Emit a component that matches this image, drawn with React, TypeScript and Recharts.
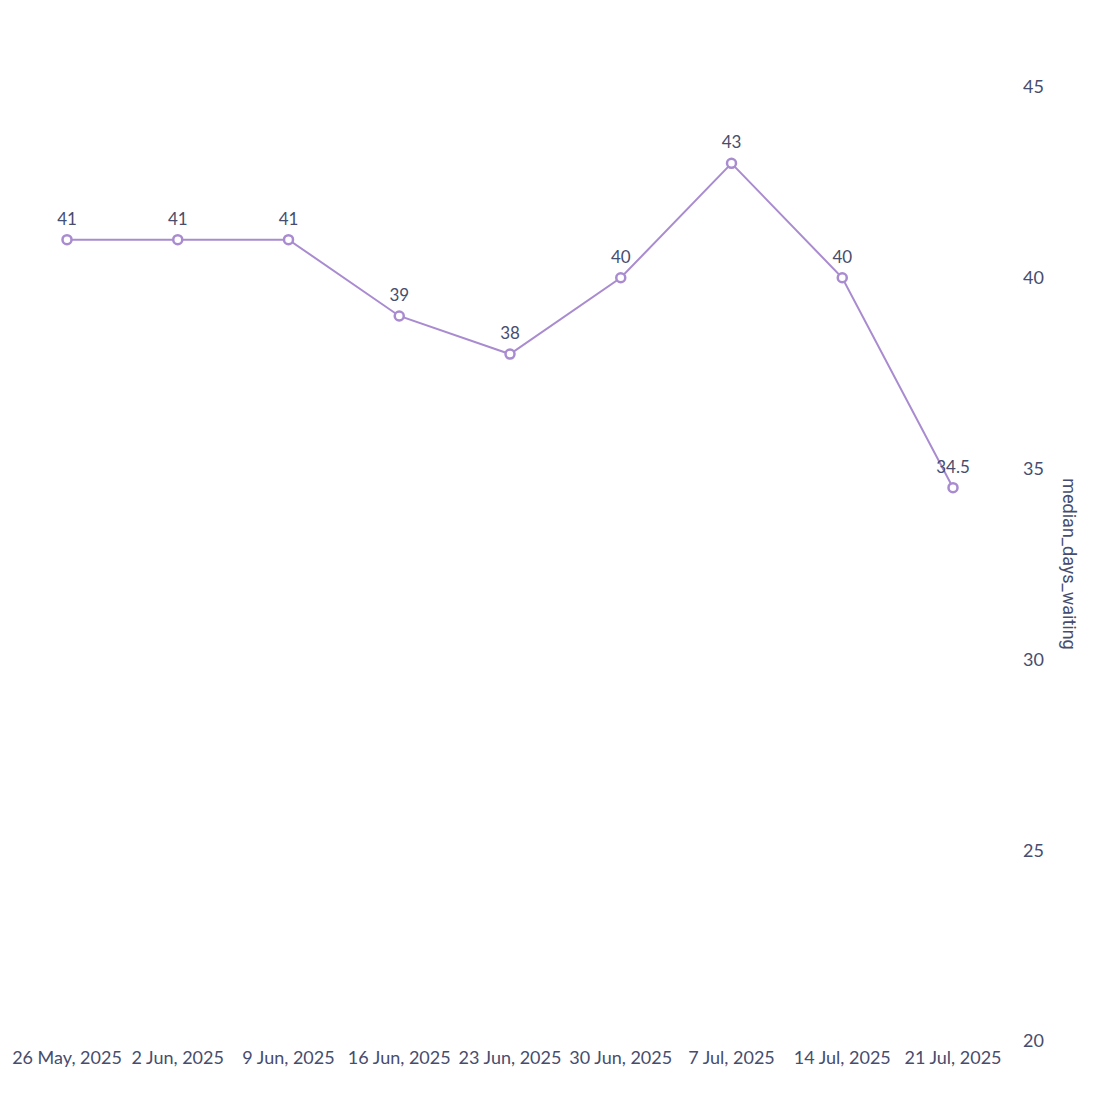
import { LineChart, Line, XAxis, YAxis, LabelList } from 'recharts';

const weeks = [
  '26 May, 2025',
  '2 Jun, 2025',
  '9 Jun, 2025',
  '16 Jun, 2025',
  '23 Jun, 2025',
  '30 Jun, 2025',
  '7 Jul, 2025',
  '14 Jul, 2025',
  '21 Jul, 2025',
];
const medianDaysWaiting = [41, 41, 41, 39, 38, 40, 43, 40, 34.5];
const yTicks = [20, 25, 30, 35, 40, 45];

const chartData = weeks.map((week, i) => ({
  week,
  median_days_waiting: medianDaysWaiting[i],
}));

const TEXT = '#464d6e';
const LINE = '#a98bd0';

export default function App() {
  return (
    <div style={{ position: 'absolute', left: 0, top: 0, width: 1098, height: 1098, background: '#fff' }}>
      <LineChart
        width={1098}
        height={1098}
        data={chartData}
        margin={{ top: 87, right: 10, left: 10, bottom: 27 }}
      >
        <XAxis
          dataKey="week"
          axisLine={false}
          tickLine={false}
          interval={0}
          height={30}
          tickMargin={4}
          padding={{ left: 57, right: 62 }}
          tick={{ fill: TEXT, fontSize: 18, fontFamily: 'Lato' }}
        />
        <YAxis
          orientation="right"
          domain={[20, 45]}
          ticks={yTicks}
          axisLine={false}
          tickLine={false}
          width={73}
          tick={{ fill: TEXT, fontSize: 18, fontFamily: 'Lato', textAnchor: 'start' }}
          label={{
            value: 'median_days_waiting',
            angle: 90,
            position: 'center',
            dx: 18,
            fill: TEXT,
            fontSize: 18,
            fontFamily: 'Roboto',
          }}
        />
        <Line
          type="linear"
          dataKey="median_days_waiting"
          stroke={LINE}
          strokeWidth={2}
          dot={{ r: 4.5, fill: '#fff', stroke: LINE, strokeWidth: 2.5 }}
          activeDot={false}
          isAnimationActive={false}
        >
          <LabelList
            dataKey="median_days_waiting"
            position="top"
            offset={15}
            fill={TEXT}
            fontSize={17}
            fontFamily="Lato"
          />
        </Line>
      </LineChart>
    </div>
  );
}
